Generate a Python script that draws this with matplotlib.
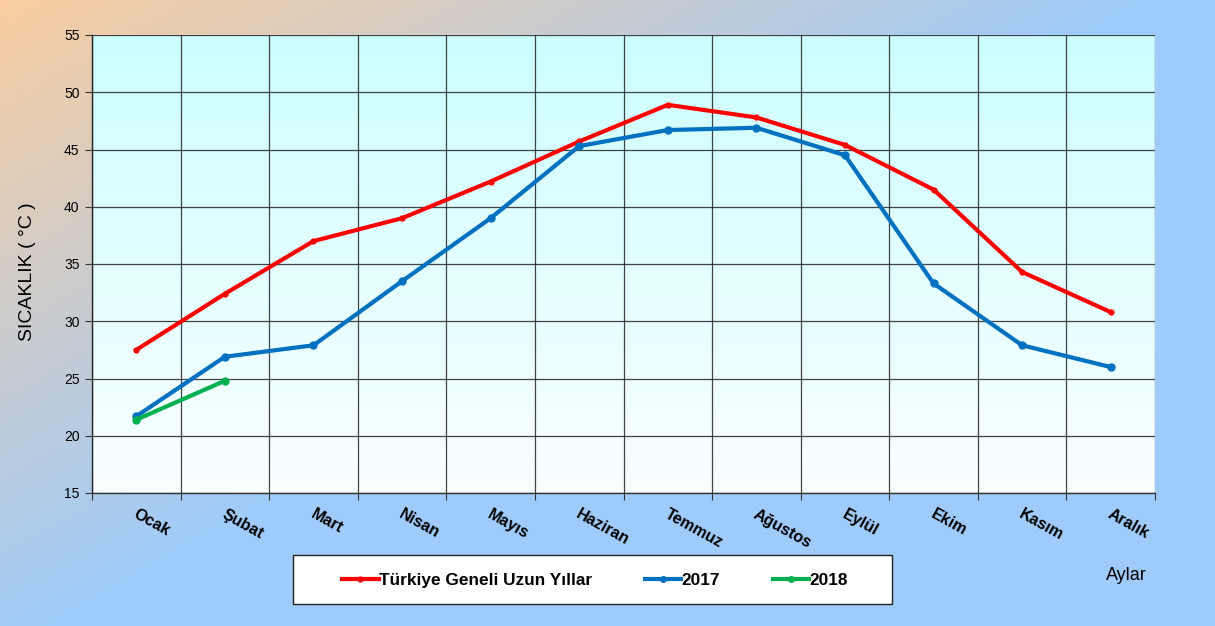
import numpy as np
import matplotlib
matplotlib.use("Agg")
import matplotlib.pyplot as plt
from matplotlib.patches import Rectangle
from matplotlib.lines import Line2D

plt.rcParams['font.family'] = ['Liberation Sans', 'DejaVu Sans']

months = ["Ocak", "Şubat", "Mart", "Nisan", "Mayıs", "Haziran",
          "Temmuz", "Ağustos", "Eylül", "Ekim", "Kasım", "Aralık"]
uzun_yillar = [27.5, 32.4, 37.0, 39.0, 42.2, 45.7, 48.9, 47.8, 45.4, 41.5, 34.3, 30.8]
y2017 = [21.7, 26.9, 27.9, 33.5, 39.0, 45.3, 46.7, 46.9, 44.5, 33.3, 27.9, 26.0]
y2018 = [21.4, 24.8]

W, H = 1215, 626
fig = plt.figure(figsize=(W / 100, H / 100), dpi=100)

# figure background gradient (peach top-left -> blue)
bg = fig.add_axes([0, 0, 1, 1], zorder=-10)
xx, yy = np.meshgrid(np.linspace(0, 1, 300), np.linspace(0, 1, 160))
t = np.clip((xx + yy * 0.9) / 0.95, 0, 1)[..., None]
peach = np.array([249, 205, 160]) / 255
blue = np.array([158, 203, 250]) / 255
bg.imshow(peach * (1 - t) + blue * t, aspect="auto", extent=[0, 1, 0, 1], origin="upper")
bg.axis("off")

ax = fig.add_axes([92 / W, 1 - 493 / H, (1155 - 92) / W, (493 - 35) / H])
ax.set_xlim(-0.5, 11.5)
ax.set_ylim(15, 55)

# plot area gradient
top = np.array([204, 254, 255]) / 255
bot = np.array([250, 255, 255]) / 255
g = np.linspace(0, 1, 100)[:, None, None]
ax.imshow(top * (1 - g) + bot * g, aspect="auto", extent=[-0.5, 11.5, 15, 55],
          origin="upper", zorder=0)

x = np.arange(len(months))
lw = 3.0
ax.plot(x, uzun_yillar, color="#FF0000", lw=lw, marker="o", ms=3.5, zorder=3)
ax.plot(x, y2017, color="#0070C0", lw=lw, marker="o", ms=5, zorder=3)
ax.plot(x[:len(y2018)], y2018, color="#00B050", lw=lw, marker="o", ms=5, zorder=3)

ax.set_yticks(np.arange(15, 56, 5))
ax.set_xticks(np.arange(-0.5, 12, 1))
ax.set_xticklabels([])
ax.grid(True, color="#222222", lw=0.9, alpha=0.85, zorder=1)
ax.set_axisbelow(False)
for sp in ax.spines.values():
    sp.set_color("#333333")
    sp.set_linewidth(1)
ax.spines["top"].set_visible(False)
ax.spines["right"].set_visible(False)
ax.tick_params(axis="both", direction="out", length=5, color="#333333", labelsize=10)
ax.tick_params(axis="y", pad=4)

for i, m in enumerate(months):
    ax.text(i + 0.02, 13.8, m, rotation=-29, rotation_mode="anchor",
            ha="left", va="top", fontsize=11.5, fontweight="bold")

fig.text(27 / W, 1 - 272 / H, "SICAKLIK ( °C )", rotation=90, ha="center", va="center", fontsize=14)
fig.text(1126 / W, 1 - 575 / H, "Aylar", ha="center", va="center", fontsize=13)

# legend box
fig.patches.append(Rectangle((293 / W, 1 - 604 / H), 599 / W, 49 / H, transform=fig.transFigure,
                             facecolor="white", edgecolor="#222222", lw=1, zorder=5))
handles = [Line2D([], [], color="#FF0000", lw=lw, marker="o", ms=3.5),
           Line2D([], [], color="#0070C0", lw=lw, marker="o", ms=4),
           Line2D([], [], color="#00B050", lw=lw, marker="o", ms=4)]
leg = fig.legend(handles, ["Türkiye Geneli Uzun Yıllar", "2017", "2018"],
                 loc="center", bbox_to_anchor=(595 / W, 1 - 580 / H),
                 ncol=3, frameon=False, prop={"size": 12.4, "weight": "bold"},
                 handlelength=2.1, handletextpad=0.0, columnspacing=3.1)
leg.set_zorder(6)

fig.savefig("out.png", dpi=100)
